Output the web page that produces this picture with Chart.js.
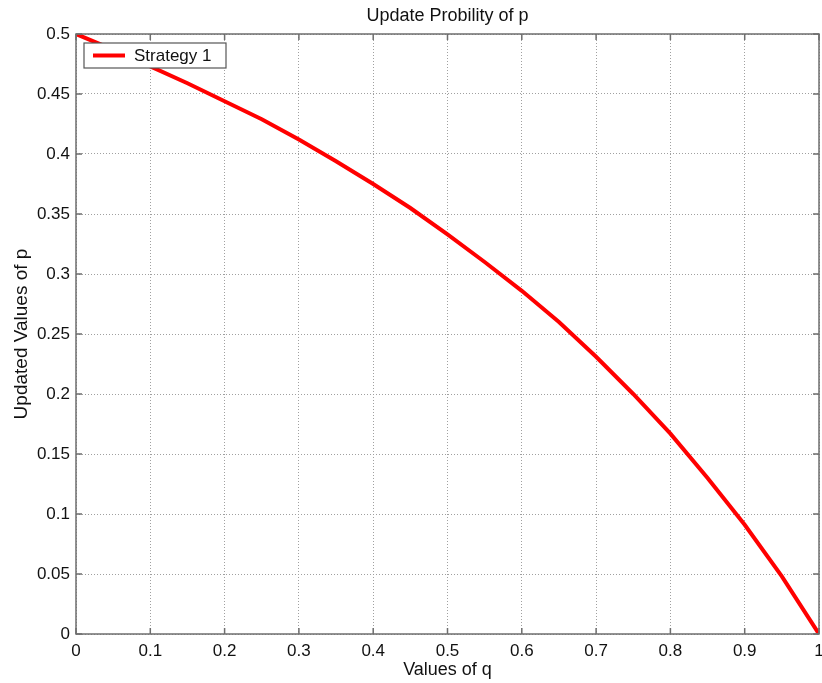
<!DOCTYPE html>
<html>
<head>
<meta charset="utf-8">
<script src="https://cdn.jsdelivr.net/npm/chart.js@4.4.1/dist/chart.umd.min.js"></script>
<style>
  html, body { margin: 0; padding: 0; background: #fff; }
  #wrap { width: 822px; height: 683px; }
</style>
</head>
<body>
<div id="wrap"><canvas id="line-chart" width="822" height="683"></canvas></div>
<script>
// values
const qValues = [0, 0.05, 0.1, 0.15, 0.2, 0.25, 0.3, 0.35, 0.4, 0.45, 0.5,
                 0.55, 0.6, 0.65, 0.7, 0.75, 0.8, 0.85, 0.9, 0.95, 1];
const pValues = [0.5, 0.487, 0.473, 0.459, 0.444, 0.429, 0.412, 0.394, 0.375, 0.355, 0.333,
                 0.31, 0.286, 0.26, 0.231, 0.2, 0.167, 0.13, 0.091, 0.048, 0];
const xTicks = [0, 0.1, 0.2, 0.3, 0.4, 0.5, 0.6, 0.7, 0.8, 0.9, 1];
const xTickLabels = ["0", "0.1", "0.2", "0.3", "0.4", "0.5", "0.6", "0.7", "0.8", "0.9", "1"];
const yTicks = [0, 0.05, 0.1, 0.15, 0.2, 0.25, 0.3, 0.35, 0.4, 0.45, 0.5];
const yTickLabels = ["0", "0.05", "0.1", "0.15", "0.2", "0.25", "0.3", "0.35", "0.4", "0.45", "0.5"];
const seriesName = "Strategy 1";

const FONT = "'Liberation Sans', Arial, Helvetica, sans-serif";
const axisColor = '#6e6e6e';

// white background
const bgPlugin = {
    id: 'bg',
    beforeDraw(chart) {
        const ctx = chart.ctx;
        ctx.save();
        ctx.fillStyle = '#fff';
        ctx.fillRect(0, 0, chart.width, chart.height);
        ctx.restore();
    }
};

// matlab style box with inward ticks + legend inside the axes
const boxPlugin = {
    id: 'box',
    afterDatasetsDraw(chart) {
        const ctx = chart.ctx;
        const a = chart.chartArea;
        const xs = chart.scales.x, ys = chart.scales.y;
        const len = 6;
        ctx.save();
        ctx.strokeStyle = axisColor;
        ctx.lineWidth = 1.5;
        ctx.beginPath();
        xTicks.forEach(function (v) {
            const px = xs.getPixelForValue(v);
            ctx.moveTo(px, a.bottom); ctx.lineTo(px, a.bottom - len);
            ctx.moveTo(px, a.top); ctx.lineTo(px, a.top + len);
        });
        yTicks.forEach(function (v) {
            const py = ys.getPixelForValue(v);
            ctx.moveTo(a.left, py); ctx.lineTo(a.left + len, py);
            ctx.moveTo(a.right, py); ctx.lineTo(a.right - len, py);
        });
        ctx.stroke();
        ctx.lineWidth = 1.5;
        ctx.strokeRect(a.left, a.top, a.right - a.left, a.bottom - a.top);

        // legend
        const ds = chart.data.datasets[0];
        const lx = a.left + 8, ly = a.top + 9, lw = 142, lh = 25;
        ctx.fillStyle = '#fff';
        ctx.fillRect(lx, ly, lw, lh);
        ctx.strokeStyle = '#555';
        ctx.lineWidth = 1.2;
        ctx.strokeRect(lx, ly, lw, lh);
        ctx.strokeStyle = ds.borderColor;
        ctx.lineWidth = ds.borderWidth;
        ctx.beginPath();
        ctx.moveTo(lx + 9, ly + lh / 2);
        ctx.lineTo(lx + 41, ly + lh / 2);
        ctx.stroke();
        ctx.fillStyle = '#111';
        ctx.font = "17px " + FONT;
        ctx.textBaseline = 'middle';
        ctx.textAlign = 'left';
        ctx.fillText(ds.label, lx + 50, ly + lh / 2 + 1);
        ctx.restore();
    }
};

const chartData = {
    datasets: [{
        label: seriesName,
        data: qValues.map(function (q, i) { return { x: q, y: pValues[i] }; }),
        borderColor: '#ff0000',
        borderWidth: 4,
        pointRadius: 0,
        fill: false,
        tension: 0
    }]
};

const config = {
    type: 'line',
    data: chartData,
    plugins: [bgPlugin, boxPlugin],
    options: {
        responsive: false,
        animation: false,
        layout: { padding: { left: 0, right: 3, top: 0, bottom: 0 } },
        plugins: {
            legend: { display: false },
            tooltip: { enabled: false },
            title: {
                display: true,
                fullSize: false,   // center over the plot area like matlab
                text: 'Update Probility of p',
                color: '#111',
                font: { family: FONT, size: 18, weight: 'normal' },
                padding: { top: 5, bottom: 7.4 }
            }
        },
        scales: {
            x: {
                type: 'linear',
                min: 0,
                max: 1,
                afterBuildTicks(scale) {
                    scale.ticks = xTicks.map(function (v) { return { value: v }; });
                },
                afterFit(scale) {
                    scale.height = 49;
                    scale.paddingLeft = 0;
                    scale.paddingRight = 0;
                },
                ticks: {
                    color: '#111',
                    font: { family: FONT, size: 17 },
                    padding: 7,
                    maxRotation: 0,
                    autoSkip: false,
                    callback: function (v, i) { return xTickLabels[i]; }
                },
                grid: {
                    color: '#a0a0a0',
                    lineWidth: 1,
                    drawTicks: false
                },
                border: { display: false, dash: [1, 2] },
                title: {
                    display: true,
                    text: 'Values of q',
                    color: '#111',
                    font: { family: FONT, size: 18 },
                    padding: { top: 0, bottom: 2 }
                }
            },
            y: {
                type: 'linear',
                min: 0,
                max: 0.5,
                afterBuildTicks(scale) {
                    scale.ticks = yTicks.map(function (v) { return { value: v }; });
                },
                afterFit(scale) {
                    scale.width = 76;
                    scale.paddingTop = 0;
                    scale.paddingBottom = 0;
                },
                ticks: {
                    color: '#111',
                    font: { family: FONT, size: 17 },
                    padding: 6,
                    autoSkip: false,
                    callback: function (v, i) { return yTickLabels[i]; }
                },
                grid: {
                    color: '#a0a0a0',
                    lineWidth: 1,
                    drawTicks: false
                },
                border: { display: false, dash: [1, 2] },
                title: {
                    display: true,
                    text: 'Updated Values of p',
                    color: '#111',
                    font: { family: FONT, size: 19 },
                    padding: { top: 10, bottom: 0 }
                }
            }
        }
    }
};

const lineChart = new Chart(document.getElementById('line-chart'), config);
</script>
</body>
</html>
